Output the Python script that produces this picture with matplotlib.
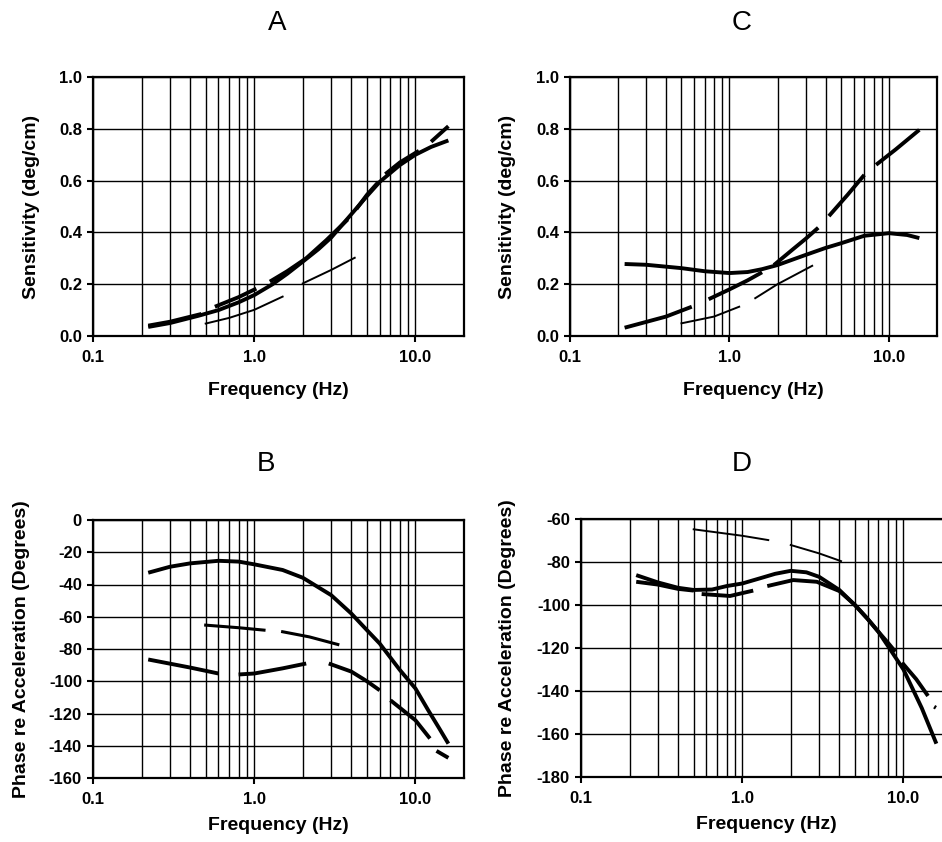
import numpy as np
import matplotlib
matplotlib.use("Agg")
import matplotlib.pyplot as plt
from matplotlib.ticker import FixedLocator, LogLocator, NullFormatter

plt.rcParams['font.family'] = ['Liberation Sans', 'DejaVu Sans']

nan = np.nan

# ---- panel A: sensitivity ----
a_solid_f = [0.22, 0.3, 0.45, 0.6, 0.8, 1.0, 1.3, 1.6, 2.0, 2.5, 3.0, 4.0, 5.0, 6.0, 8.0, 10.0, 12.5, 16.0]
a_solid_v = [0.035, 0.05, 0.078, 0.10, 0.13, 0.158, 0.20, 0.24, 0.287, 0.335, 0.38, 0.47, 0.54, 0.595, 0.66, 0.70, 0.73, 0.755]
a_dash_f = [0.22, 0.3, 0.47, nan, 0.57, 0.8, 1.03, nan, 1.25, 1.6, 2.1, 2.8, 3.8, nan, 4.3, 5.0, 5.9, nan, 6.5, 8.0, 10.5, nan, 12.5, 16.0]
a_dash_v = [0.04, 0.055, 0.085, nan, 0.113, 0.15, 0.183, nan, 0.21, 0.25, 0.30, 0.37, 0.45, nan, 0.49, 0.545, 0.595, nan, 0.625, 0.67, 0.715, nan, 0.75, 0.81]
a_thin_f = [0.5, 0.7, 1.0, 1.5, nan, 2.0, 3.0, 4.2]
a_thin_v = [0.048, 0.07, 0.101, 0.152, nan, 0.203, 0.255, 0.302]

# ---- panel C: sensitivity ----
c_solid_f = [0.22, 0.3, 0.5, 0.7, 1.0, 1.3, 1.6, 2.0, 3.0, 4.0, 5.0, 7.0, 10.0, 13.0, 15.5]
c_solid_v = [0.278, 0.275, 0.262, 0.25, 0.243, 0.247, 0.258, 0.274, 0.313, 0.34, 0.358, 0.387, 0.397, 0.39, 0.378]
c_dash_f = [0.22, 0.4, 0.58, nan, 0.74, 1.0, 1.3, 1.6, nan, 1.9, 2.5, 3.0, 3.6, nan, 4.2, 5.5, 7.0, nan, 8.3, 11.0, 15.5]
c_dash_v = [0.032, 0.075, 0.113, nan, 0.142, 0.18, 0.215, 0.246, nan, 0.274, 0.335, 0.375, 0.418, nan, 0.463, 0.545, 0.622, nan, 0.661, 0.72, 0.796]
c_thin_f = [0.5, 0.8, 1.15, nan, 1.45, 2.0, 3.3]
c_thin_v = [0.049, 0.075, 0.113, nan, 0.146, 0.20, 0.271]

# ---- panel B: phase ----
b_solid_f = [0.22, 0.3, 0.4, 0.6, 0.8, 1.0, 1.5, 2.0, 3.0, 4.0, 5.0, 6.0, 8.0, 10.0, 12.0, 14.0, 16.0]
b_solid_v = [-32.7, -29, -26.9, -25.3, -25.8, -27.5, -31, -35.8, -46.6, -58, -68.3, -76.6, -93, -104.5, -118, -129, -138.7]
b_dash_f = [0.22, 0.4, 0.6, nan, 0.8, 1.0, 1.5, 2.1, nan, 2.9, 4.0, 5.0, 6.0, nan, 7.0, 10.0, 12.3, nan, 13.5, 16.0]
b_dash_v = [-86.5, -91.5, -95.2, nan, -95.8, -95.2, -92, -89, nan, -89, -94, -100, -105.6, nan, -111.8, -124.2, -135.5, nan, -143.2, -147.5]
b_mid_f = [0.5, 0.8, 1.15, nan, 1.5, 2.2, 3.3]
b_mid_v = [-65.2, -66.8, -68.3, nan, -69.3, -72.5, -77.2]

# ---- panel D: phase ----
d_solid_f = [0.22, 0.3, 0.4, 0.5, 0.65, 0.8, 1.0, 1.3, 1.6, 2.0, 2.5, 3.0, 4.0, 5.0, 6.0, 7.0, 8.0, 10.0, 13.0, 16.0]
d_solid_v = [-86.1, -89.5, -92, -93, -92.8, -91.2, -90, -87.5, -85.5, -84.1, -84.8, -86.9, -93, -100, -106.5, -112.5, -119, -130, -148, -164.5]
d_dash_f = [0.22, 0.3, 0.4, 0.5, nan, 0.56, 0.84, 1.17, nan, 1.43, 2.07, 2.9, 4.0, 5.0, 6.0, 7.0, 8.0, 8.9, nan, 9.8, 12.0, 14.2, nan, 15.5, 15.9]
d_dash_v = [-89.2, -90.5, -92.5, -93.3, nan, -94.9, -95.8, -93.3, nan, -91.2, -88.4, -89.2, -93.5, -100, -106.5, -112.5, -117.5, -121.7, nan, -126.8, -134.5, -142.3, nan, -147.3, -147.8]
d_thin_f = [0.5, 1.0, 1.45, nan, 2.0, 3.0, 4.1]
d_thin_v = [-64.8, -67.8, -69.8, nan, -72.1, -76.0, -79.6]

x_ticks = [0.1, 1.0, 10.0]
x_ticklabels = ['0.1', '1.0', '10.0']

fig = plt.figure(figsize=(9.42, 8.42), dpi=100)

W = 942.0
H = 842.0


def make_axes(left, top, right, bottom, ylim, ystep, fmt, ylabel, ylab_x, xlab_y):
    ax = fig.add_axes([left / W, 1 - bottom / H, (right - left) / W, (bottom - top) / H])
    ax.set_xscale('log')
    ax.set_xlim(0.1, 20)
    ax.set_ylim(*ylim)
    ax.xaxis.set_major_locator(FixedLocator(x_ticks))
    ax.set_xticklabels(x_ticklabels)
    ax.xaxis.set_minor_locator(LogLocator(base=10, subs=np.arange(2, 10)))
    ax.xaxis.set_minor_formatter(NullFormatter())
    yt = np.arange(ylim[0], ylim[1] + ystep / 2, ystep)
    ax.set_yticks(yt)
    ax.set_yticklabels([fmt.format(v) for v in yt])
    ax.grid(True, which='both', axis='x', color='black', lw=1.0)
    ax.grid(True, which='major', axis='y', color='black', lw=1.0)
    ax.tick_params(which='major', direction='out', length=4, width=1.5,
                   labelsize=12, pad=4)
    ax.tick_params(axis='x', which='major', pad=6)
    ax.tick_params(which='minor', length=0)
    for lab in ax.get_xticklabels() + ax.get_yticklabels():
        lab.set_fontweight('bold')
    for s in ax.spines.values():
        s.set_linewidth(1.6)
    ax.set_ylabel(ylabel, fontsize=14, fontweight='bold')
    ax.yaxis.set_label_coords(ylab_x, 0.5)
    ax.set_xlabel('Frequency (Hz)', fontsize=14, fontweight='bold')
    ax.xaxis.set_label_coords(0.5, xlab_y)
    ax.set_axisbelow(True)
    return ax


axA = make_axes(93, 77, 464, 336, (0.0, 1.0), 0.2, '{:.1f}', 'Sensitivity (deg/cm)', -0.143, -0.176)
axC = make_axes(570, 77, 937, 336, (0.0, 1.0), 0.2, '{:.1f}', 'Sensitivity (deg/cm)', -0.147, -0.176)
axB = make_axes(93, 520, 464, 778, (-160, 0), 20, '{:.0f}', 'Phase re Acceleration (Degrees)', -0.170, -0.150)
axD = make_axes(581, 519, 952, 777, (-180, -60), 20, '{:.0f}', 'Phase re Acceleration (Degrees)', -0.175, -0.152)

thick = 2.8
mid = 2.2
thin = 1.4

axA.plot(a_solid_f, a_solid_v, color='black', lw=thick, solid_capstyle='butt')
axA.plot(a_dash_f, a_dash_v, color='black', lw=thick, solid_capstyle='butt')
axA.plot(a_thin_f, a_thin_v, color='black', lw=thin)

axC.plot(c_solid_f, c_solid_v, color='black', lw=thick, solid_capstyle='butt')
axC.plot(c_dash_f, c_dash_v, color='black', lw=thick, solid_capstyle='butt')
axC.plot(c_thin_f, c_thin_v, color='black', lw=thin)

axB.plot(b_solid_f, b_solid_v, color='black', lw=thick, solid_capstyle='butt')
axB.plot(b_dash_f, b_dash_v, color='black', lw=thick, solid_capstyle='butt')
axB.plot(b_mid_f, b_mid_v, color='black', lw=mid)

axD.plot(d_solid_f, d_solid_v, color='black', lw=thick, solid_capstyle='butt')
axD.plot(d_dash_f, d_dash_v, color='black', lw=thick, solid_capstyle='butt')
axD.plot(d_thin_f, d_thin_v, color='black', lw=thin)

for letter, x, y in [('A', 277, 23), ('C', 742, 23), ('B', 266, 464), ('D', 742, 464)]:
    fig.text(x / W, 1 - y / H, letter, fontsize=20, ha='center', va='center')

fig.savefig('out.png', dpi=100)
